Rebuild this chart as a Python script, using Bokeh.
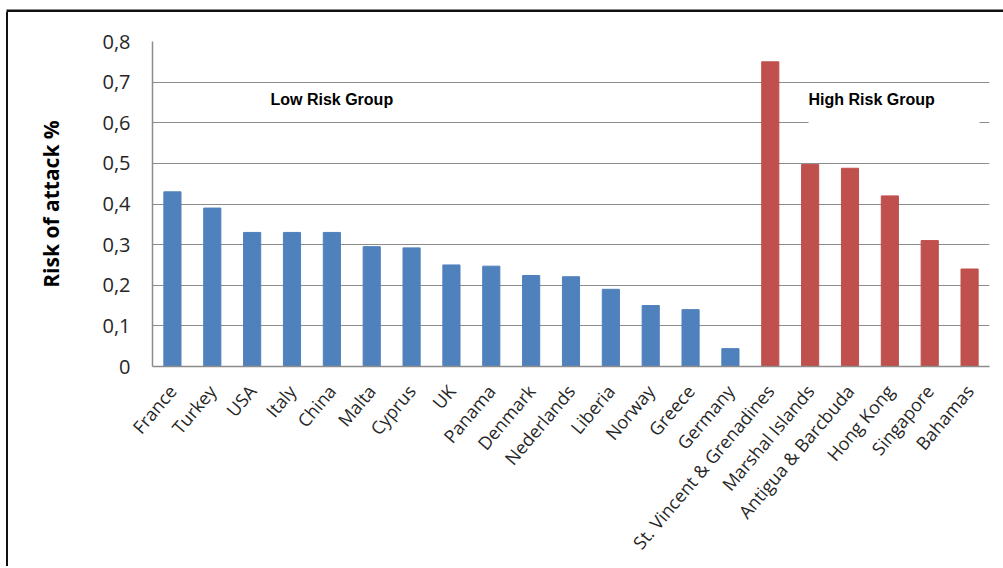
from bokeh.plotting import figure
from bokeh.layouts import column, row
from bokeh.models import (ColumnDataSource, Range1d, FixedTicker, CustomJSTickFormatter,
                          Label, BoxAnnotation, Div, Spacer)
from bokeh.embed import file_html
from bokeh.resources import INLINE

# ---- data ----
countries = ["France", "Turkey", "USA", "Italy", "China", "Malta", "Cyprus", "UK",
             "Panama", "Denmark", "Nederlands", "Liberia", "Norway", "Greece", "Germany",
             "St. Vincent & Grenadines", "Marshal Islands", "Antigua & Barcbuda",
             "Hong Kong", "Singapore", "Bahamas"]
risk = [0.43, 0.39, 0.33, 0.33, 0.33, 0.295, 0.292, 0.25, 0.247, 0.224, 0.221,
        0.19, 0.15, 0.14, 0.044, 0.75, 0.497, 0.488, 0.42, 0.31, 0.24]
groups = ["Low Risk Group"] * 15 + ["High Risk Group"] * 6
group_colors = {"Low Risk Group": "#4f81bd", "High Risk Group": "#c0504d"}
y_ticks = [0, 0.1, 0.2, 0.3, 0.4, 0.5, 0.6, 0.7, 0.8]
y_title = "Risk of attack %"

src = ColumnDataSource(dict(country=countries, risk=risk, group=groups,
                            color=[group_colors[g] for g in groups]))

p = figure(width=993, height=554, x_range=countries, y_range=Range1d(0, 0.8),
           output_backend="svg", toolbar_location=None,
           min_border_left=144, min_border_right=12, min_border_top=29,
           min_border_bottom=200)
p.background_fill_color = "white"
p.border_fill_color = "white"
p.outline_line_color = None

p.vbar(x="country", top="risk", width=0.43, color="color", source=src)

# axes
p.yaxis.ticker = FixedTicker(ticks=y_ticks)
p.yaxis.formatter = CustomJSTickFormatter(
    code="return tick == 0 ? '0' : tick.toFixed(1).replace('.', ',');")
p.yaxis.axis_label = y_title
p.yaxis.axis_label_text_font = "Open Sans"
p.yaxis.axis_label_text_font_style = "bold"
p.yaxis.axis_label_text_font_size = "21px"
p.yaxis.axis_label_text_color = "#000000"
p.yaxis.axis_label_standoff = 34
for ax in (p.xaxis, p.yaxis):
    ax.axis_line_color = "#8c8c8c"
    ax.axis_line_width = 1.5
    ax.major_tick_line_color = None
    ax.minor_tick_line_color = None
    ax.major_tick_out = 0
    ax.major_tick_in = 0
    ax.major_label_text_font = "Open Sans"
    ax.major_label_text_color = "#262626"
p.yaxis.major_label_text_font_size = "20px"
p.yaxis.major_label_standoff = 22
p.xaxis.major_label_text_font_size = "18px"
p.xaxis.major_label_orientation = 0.87
p.xaxis.major_label_standoff = 21

p.xgrid.grid_line_color = None
p.ygrid.grid_line_color = "#8c8c8c"
p.ygrid.grid_line_width = 1.2
p.x_range.range_padding = 0

# annotations
p.add_layout(Label(x=2.96, y=0.657, text="Low Risk Group", text_align="left",
                   text_baseline="alphabetic", text_font="Liberation Sans",
                   text_font_style="bold", text_font_size="16px", text_color="#000000"))
p.add_layout(BoxAnnotation(left=16.46, right=20.75, bottom=0.586, top=0.694,
                           fill_color="white", fill_alpha=1, line_color=None,
                           level="underlay"))
p.add_layout(Label(x=16.46, y=0.657, text="High Risk Group", text_align="left",
                   text_baseline="alphabetic", text_font="Liberation Sans",
                   text_font_style="bold", text_font_size="16px", text_color="#000000"))

# outer chart border: top edge as a thin black plot frame, left edge as a black Div
top_line = figure(width=997, height=12, output_backend="svg", toolbar_location=None,
                  x_axis_type=None, y_axis_type=None,
                  min_border_left=0, min_border_top=9,
                  min_border_right=0, min_border_bottom=0)
top_line.background_fill_color = "#111111"
top_line.border_fill_color = "white"
top_line.outline_line_color = None
top_line.grid.visible = False

left_line = Div(text="", width=2, height=554, margin=(0, 0, 0, 6),
                styles={"background-color": "#111111", "overflow": "hidden"})

layout = column(
    row(Spacer(width=6, height=12), top_line, spacing=0),
    row(left_line, p, spacing=0),
    spacing=0,
)

open("out.html", "w").write(file_html(layout, INLINE))
